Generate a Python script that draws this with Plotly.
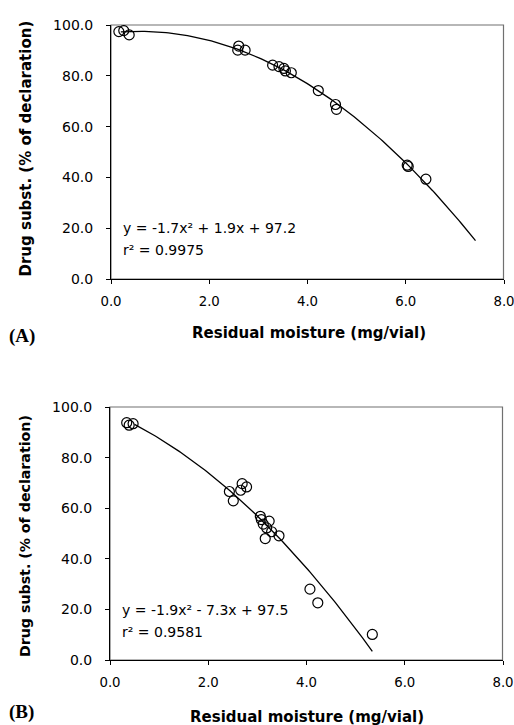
import numpy as np
import plotly.graph_objects as go

# Panel A data
a_moist = [0.16, 0.26, 0.37, 2.60, 2.58, 2.73, 3.29, 3.42, 3.52, 3.55, 3.67, 4.22, 4.57, 4.59, 6.03, 6.05, 6.41]
a_drug = [97.4, 97.8, 96.1, 91.7, 90.1, 90.1, 84.2, 83.6, 82.9, 81.9, 81.2, 74.2, 68.7, 66.8, 44.8, 44.3, 39.3]
a_fit_range = [0.2, 7.42]
a_eq = "y = -1.7x² + 1.9x + 97.2"
a_r2 = "r² = 0.9975"

# Panel B data
b_moist = [0.34, 0.39, 0.47, 2.43, 2.51, 2.69, 2.78, 2.66, 3.06, 3.08, 3.12, 3.24, 3.19, 3.29, 3.44, 3.16, 4.07, 4.23, 5.34]
b_drug = [93.8, 92.8, 93.4, 66.6, 62.9, 69.7, 68.4, 67.1, 56.8, 55.5, 53.7, 54.9, 52.2, 50.7, 49.1, 48.0, 28.0, 22.6, 10.1]
b_fit_range = [0.5, 5.34]
b_eq = "y = -1.9x² - 7.3x + 97.5"
b_r2 = "r² = 0.9581"

x_ticks = [0, 2, 4, 6, 8]
y_ticks = [0, 20, 40, 60, 80, 100]
x_title = "Residual moisture (mg/vial)"
y_title = "Drug subst. (% of declaration)"

W, H = 514, 725
SANS = "DejaVu Sans, Arial"
SERIF = "Liberation Serif, Times New Roman"


def trend(xs, ys, rng):
    c = np.polyfit(xs, ys, 2)
    xx = np.linspace(rng[0], rng[1], 150)
    return xx, np.polyval(c, xx)


fig = go.Figure()

panels = [
    dict(x=a_moist, y=a_drug, rng=a_fit_range, eq=a_eq, r2=a_r2, xa="x", ya="y",
         px=(111, 504), py=(25, 279), label="(A)", eqy=20.1, r2y=11.4,
         labely=336, xt=(308.5, 333), yt=(25, 148.5), ytsize=15),
    dict(x=b_moist, y=b_drug, rng=b_fit_range, eq=b_eq, r2=b_r2, xa="x2", ya="y2",
         px=(110, 503), py=(407, 660), label="(B)", eqy=19.7, r2y=11.2,
         labely=712, xt=(307, 717), yt=(25, 536), ytsize=14.2),
]

for i, p in enumerate(panels):
    x0, x1 = p["px"][0] / W, p["px"][1] / W
    y0, y1 = 1 - p["py"][1] / H, 1 - p["py"][0] / H
    xx, yy = trend(p["x"], p["y"], p["rng"])
    fig.add_trace(go.Scatter(x=xx, y=yy, mode="lines", line=dict(color="black", width=1.3),
                             xaxis=p["xa"], yaxis=p["ya"], showlegend=False, hoverinfo="skip"))
    fig.add_trace(go.Scatter(x=p["x"], y=p["y"], mode="markers",
                             marker=dict(symbol="circle-open", size=10, color="black", line=dict(width=1.2)),
                             xaxis=p["xa"], yaxis=p["ya"], showlegend=False))
    sfx = "" if i == 0 else "2"
    axcommon = dict(showgrid=False, zeroline=False, showline=True, linecolor="black", linewidth=1,
                    ticks="outside", ticklen=4, tickcolor="black", tickformat=".1f", automargin=False,
                    ticklabeloverflow="allow")
    fig.layout["xaxis" + sfx] = dict(axcommon, domain=[x0, x1], range=[0, 8], tickvals=x_ticks,
                                     anchor="y" + sfx, ticklabelstandoff=6,
                                     tickfont=dict(family=SANS, size=13.3, color="black"))
    fig.layout["yaxis" + sfx] = dict(axcommon, domain=[y0, y1], range=[0, 100], tickvals=y_ticks,
                                     anchor="x" + sfx, ticklabelstandoff=10,
                                     tickfont=dict(family=SANS, size=14, color="black"))
    # grey frame (left/bottom covered by the black axis lines)
    fig.add_shape(type="rect", xref="paper", yref="paper", x0=x0, x1=x1 - 0.5 / W, y0=y0, y1=y1,
                  line=dict(color="#707070", width=1.2), fillcolor="rgba(0,0,0,0)", layer="below")
    fig.add_annotation(x=0.2, y=p["eqy"], xref=p["xa"], yref=p["ya"], text=p["eq"], showarrow=False,
                       xanchor="left", yanchor="middle", font=dict(family=SANS, size=14, color="black"))
    fig.add_annotation(x=0.2, y=p["r2y"], xref=p["xa"], yref=p["ya"], text=p["r2"], showarrow=False,
                       xanchor="left", yanchor="middle", font=dict(family=SANS, size=14, color="black"))
    # axis titles
    fig.add_annotation(x=p["xt"][0] / W, y=1 - p["xt"][1] / H, xref="paper", yref="paper",
                       text="<b>" + x_title + "</b>", showarrow=False, xanchor="center", yanchor="middle",
                       font=dict(family=SANS, size=15, color="black"))
    fig.add_annotation(x=p["yt"][0] / W, y=1 - p["yt"][1] / H, xref="paper", yref="paper",
                       text="<b>" + y_title + "</b>", showarrow=False, textangle=-90,
                       xanchor="center", yanchor="middle",
                       font=dict(family=SANS, size=p["ytsize"], color="black"))
    fig.add_annotation(x=7 / W, y=1 - p["labely"] / H, xref="paper", yref="paper",
                       text="<b>" + p["label"] + "</b>", showarrow=False, xanchor="left", yanchor="middle",
                       font=dict(family=SERIF, size=19, color="black"))

fig.update_layout(width=W, height=H, margin=dict(l=0, r=0, t=0, b=0),
                  paper_bgcolor="white", plot_bgcolor="rgba(0,0,0,0)")

fig.write_html("out.html", config={"displayModeBar": False},
               post_script="document.body.style.margin='0';document.body.style.overflow='hidden';")
